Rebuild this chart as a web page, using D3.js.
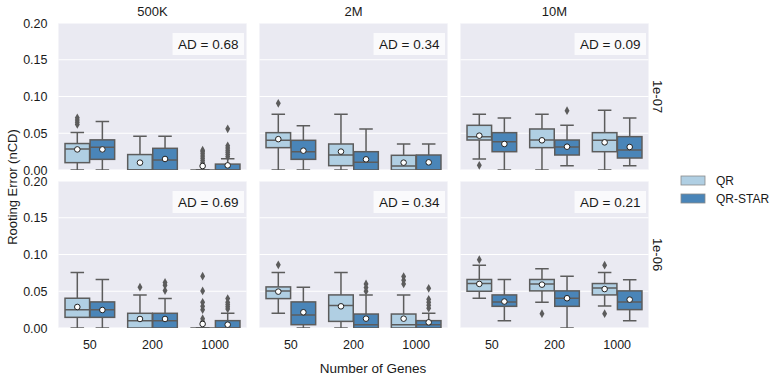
<!DOCTYPE html>
<html><head><meta charset="utf-8">
<script src="https://cdn.jsdelivr.net/npm/d3@7"></script>
<style>body{margin:0;background:#fff}svg{display:block;font-family:"Liberation Sans",Arial,sans-serif}</style>
</head><body><svg id="c" width="773" height="379"></svg>
<script>
// ---------- data ----------
const columns = ["500K", "2M", "10M"];
const rows = ["1e-07", "1e-06"];
const genes = ["50", "200", "1000"];
const methods = ["QR", "QR-STAR"];
const adLabels = [["0.68", "0.34", "0.09"], ["0.69", "0.34", "0.21"]];
const yTicks = [0, 0.05, 0.10, 0.15, 0.20];

// each panel [row][col]: 6 boxes in order 50-QR, 50-STAR, 200-QR, 200-STAR, 1000-QR, 1000-STAR
const whiskerLow = [
  [[0,0,0,0,0,0], [0,0,0,0,0,0], [0.015,0,0,0.0059,0,0.0059]],
  [[0,0,0,0,0,0], [0.02,0,0,0,0,0], [0.0405,0.01,0.035,0,0.03,0.01]]
];
const q1 = [
  [[0.010,0.0145,0,0,0,0], [0.0304,0.0145,0.0059,0,0,0], [0.0408,0.0249,0.0304,0.0204,0.0249,0.0163]],
  [[0.0145,0.0145,0,0,0,0], [0.04,0.0045,0.009,0,0,0], [0.05,0.0295,0.0505,0.0295,0.045,0.025]]
];
const median = [
  [[0.0286,0.031,0,0.0136,0,0], [0.0404,0.0249,0.0204,0.0104,0.0054,0], [0.0454,0.0385,0.0408,0.0313,0.0404,0.0272]],
  [[0.025,0.025,0.01,0.01,0,0], [0.0505,0.0177,0.0305,0.0045,0.0045,0.0045], [0.0605,0.0355,0.06,0.0405,0.0545,0.0355]]
];
const q3 = [
  [[0.036,0.041,0.021,0.0295,0,0.008], [0.0508,0.0404,0.0354,0.0249,0.020,0.0204], [0.0608,0.0508,0.0558,0.0408,0.0508,0.0454]],
  [[0.0405,0.0355,0.02,0.02,0,0.01], [0.0559,0.0355,0.045,0.019,0.019,0.01], [0.066,0.045,0.066,0.0505,0.0605,0.0505]]
];
const whiskerHigh = [
  [[0.051,0.066,0.046,0.046,0,0.0154], [0.0757,0.0603,0.0757,0.0558,0.0354,0.0354], [0.0757,0.0707,0.0757,0.0608,0.0812,0.0707]],
  [[0.0755,0.066,0.045,0.04,0,0.02], [0.0755,0.0555,0.0755,0.045,0.045,0.02], [0.0855,0.066,0.0805,0.0705,0.0755,0.0655]]
];
const meanValue = [
  [[0.028,0.028,0.010,0.015,0.0054,0.0063], [0.042,0.0263,0.025,0.0145,0.010,0.0104], [0.0467,0.0354,0.0404,0.0317,0.0376,0.0313]],
  [[0.0286,0.0245,0.0123,0.0123,0.0055,0.0045], [0.0495,0.0214,0.0295,0.0127,0.0127,0.0077], [0.06,0.036,0.059,0.0405,0.053,0.0386]]
];
const outliers = [
  [[[0.062,0.065,0.068,0.071], [], [], [], [0.004,0.007,0.010,0.013,0.016,0.019,0.022,0.025,0.027], [0.018,0.021,0.024,0.027,0.030,0.033,0.056]],
   [[0.0907], [], [], [], [], []],
   [[0.0063], [], [], [0.0807], [], []]],
  [[[], [], [0.0555], [0.051,0.058,0.062], [0.009,0.0127,0.025,0.0295,0.035,0.0505,0.0705], [0.026,0.029,0.032,0.035,0.04]],
   [[0.086], [], [], [0.05,0.055,0.06], [0.06,0.065,0.07], [0.027,0.031,0.035,0.039,0.054]],
   [[0.093], [], [0.0195], [], [0.0855,0.0195], []]]
];

// ---------- layout ----------
const colors = {"QR": "#b0cfe3", "QR-STAR": "#4a85b8"};
const gray = "#5c5c5c";
const svg = d3.select("#c");
const panelW = 188, panelH = 147;
const colX = d3.scaleOrdinal().domain(columns).range([58.5, 259.5, 460.5]);
const rowY = d3.scaleOrdinal().domain(rows).range([23, 181]);
const y = d3.scaleLinear().domain([0, 0.2]).range([panelH, 0]);
const xg = d3.scaleBand().domain(genes).range([0, panelW]);
const bw = xg.bandwidth();
const xh = d3.scaleBand().domain(methods).range([-0.4 * bw, 0.4 * bw]);
const boxW = xh.bandwidth() * 0.98;
const capW = boxW * 0.55;
const diamond = d3.symbol().type(d3.symbolDiamond).size(26);

rows.forEach((rName, ri) => {
  columns.forEach((cName, ci) => {
    const g = svg.append("g").attr("transform", `translate(${colX(cName)},${rowY(rName)})`);
    const clipId = `clip${ri}${ci}`;
    g.append("clipPath").attr("id", clipId).append("rect").attr("width", panelW).attr("height", panelH);
    g.append("rect").attr("width", panelW).attr("height", panelH).attr("fill", "#eaeaf2");
    g.selectAll(".grid").data(yTicks).join("line")
      .attr("x1", 0).attr("x2", panelW).attr("y1", d => y(d)).attr("y2", d => y(d))
      .attr("stroke", "#fff").attr("stroke-width", 1.2);
    const inner = g.append("g").attr("clip-path", `url(#${clipId})`);
    const boxes = [];
    genes.forEach((gn, gi) => methods.forEach((m, mi) => boxes.push({gn, m, k: gi * 2 + mi})));
    boxes.forEach(b => {
      const cx = xg(b.gn) + bw / 2 + xh(b.m) + xh.bandwidth() / 2;
      const k = b.k;
      const lo = whiskerLow[ri][ci][k], a = q1[ri][ci][k], md = median[ri][ci][k],
            c = q3[ri][ci][k], hi = whiskerHigh[ri][ci][k];
      const bg = inner.append("g");
      bg.append("line").attr("x1", cx).attr("x2", cx).attr("y1", y(c)).attr("y2", y(hi))
        .attr("stroke", gray).attr("stroke-width", 1.5);
      bg.append("line").attr("x1", cx).attr("x2", cx).attr("y1", y(a)).attr("y2", y(lo))
        .attr("stroke", gray).attr("stroke-width", 1.5);
      [lo, hi].forEach(v => bg.append("line").attr("x1", cx - capW / 2).attr("x2", cx + capW / 2)
        .attr("y1", y(v)).attr("y2", y(v)).attr("stroke", gray).attr("stroke-width", 1.5));
      bg.append("rect").attr("x", cx - boxW / 2).attr("width", boxW)
        .attr("y", y(c)).attr("height", Math.max(0, y(a) - y(c)))
        .attr("fill", colors[b.m]).attr("stroke", gray).attr("stroke-width", 1.5);
      bg.append("line").attr("x1", cx - boxW / 2).attr("x2", cx + boxW / 2)
        .attr("y1", y(md)).attr("y2", y(md)).attr("stroke", gray).attr("stroke-width", 1.5);
      outliers[ri][ci][k].forEach(v => bg.append("path").attr("d", diamond)
        .attr("transform", `translate(${cx},${y(v)}) scale(0.9,0.92)`).attr("fill", gray));
      b.cx = cx;
    });
    boxes.forEach(b => {
      g.append("circle").attr("cx", b.cx).attr("cy", y(meanValue[ri][ci][b.k])).attr("r", 2.8)
        .attr("fill", "#fff").attr("stroke", "#222").attr("stroke-width", 1);
    });
    const t = g.append("text").attr("x", panelW - 8).attr("y", 21).attr("text-anchor", "end")
      .attr("dominant-baseline", "central").attr("font-size", 13.5).attr("fill", "#1a1a1a")
      .text(`AD = ${adLabels[ri][ci]}`);
    const tw = t.node().getComputedTextLength();
    g.insert("rect", "text").attr("x", panelW - 8 - tw - 5.5).attr("y", 10).attr("width", tw + 11)
      .attr("height", 22).attr("fill", "#fafafc");
    if (ri === 0) svg.append("text").attr("x", colX(cName) + panelW / 2).attr("y", 16)
      .attr("text-anchor", "middle").attr("font-size", 13).attr("fill", "#1a1a1a").text(cName);
    if (ci === 0) g.selectAll(".yt").data(yTicks).join("text")
      .attr("x", -11).attr("y", d => y(d)).attr("dy", "0.36em").attr("text-anchor", "end")
      .attr("font-size", 12.5).attr("fill", "#1a1a1a").text(d => d3.format(".2f")(d));
    if (ri === rows.length - 1) g.selectAll(".xt").data(genes).join("text")
      .attr("x", d => xg(d) + bw / 2).attr("y", panelH + 21).attr("text-anchor", "middle")
      .attr("font-size", 12.5).attr("fill", "#1a1a1a").text(d => d);
    if (ci === columns.length - 1) svg.append("text")
      .attr("transform", `translate(657,${rowY(rName) + panelH / 2}) rotate(90)`)
      .attr("text-anchor", "middle").attr("dominant-baseline", "central")
      .attr("font-size", 13).attr("fill", "#1a1a1a").text(rName);
  });
});

svg.append("text").attr("x", 373).attr("y", 373).attr("text-anchor", "middle")
  .attr("font-size", 13.5).attr("fill", "#1a1a1a").text("Number of Genes");
svg.append("text").attr("transform", "translate(12.5,187) rotate(-90)")
  .attr("text-anchor", "middle").attr("dominant-baseline", "central")
  .attr("font-size", 13).attr("fill", "#1a1a1a").text("Rooting Error (nCD)");

const lg = svg.append("g").attr("transform", "translate(681,176)");
methods.forEach((m, i) => {
  lg.append("rect").attr("x", 0).attr("y", i * 18).attr("width", 24).attr("height", 9)
    .attr("fill", colors[m]).attr("stroke", "#8a8a8a").attr("stroke-width", 0.8);
  lg.append("text").attr("x", 35).attr("y", i * 18 + 4.5).attr("dominant-baseline", "central")
    .attr("font-size", 12).attr("fill", "#1a1a1a").text(m);
});
</script></body></html>
